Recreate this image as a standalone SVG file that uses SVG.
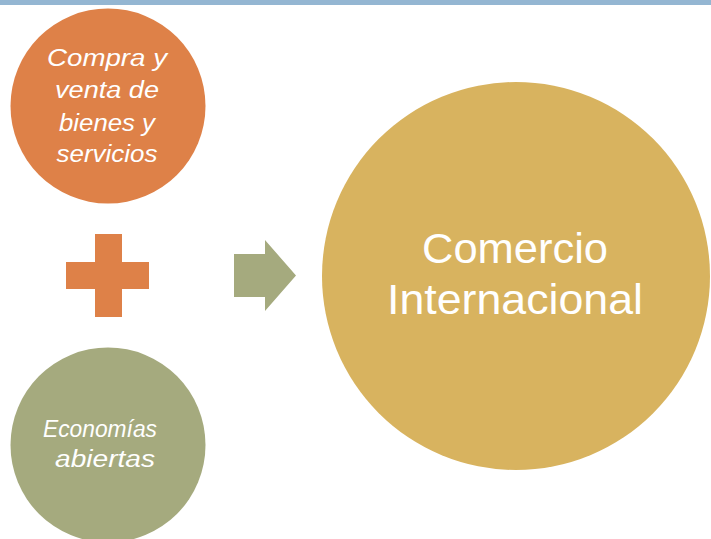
<svg xmlns="http://www.w3.org/2000/svg" width="711" height="539" viewBox="0 0 711 539">
<style>
.lbl{font-family:"Liberation Sans",Arial,sans-serif;fill:#ffffff;text-anchor:middle}
.it{font-style:italic;font-size:23px}
.big{font-size:42px}
</style>
<rect x="0" y="0" width="711" height="539" fill="#ffffff"/>
<rect x="0" y="0" width="711" height="5" fill="#94B6D2"/>
<g id="node-compra">
<circle cx="108" cy="106" r="97.5" fill="#DE8148"/>
<text class="lbl it" x="107" y="66" textLength="120" lengthAdjust="spacingAndGlyphs">Compra y</text>
<text class="lbl it" x="107" y="98" textLength="104" lengthAdjust="spacingAndGlyphs">venta de</text>
<text class="lbl it" x="107" y="131" textLength="96" lengthAdjust="spacingAndGlyphs">bienes y</text>
<text class="lbl it" x="107" y="162" textLength="101" lengthAdjust="spacingAndGlyphs">servicios</text>
</g>
<g id="node-plus">
<path d="M95 234H122V262H149V289H122V317H95V289H66V262H95Z" fill="#DE8148"/>
</g>
<g id="node-economias">
<circle cx="108" cy="445" r="97.5" fill="#A5AA7E"/>
<text class="lbl it" x="100" y="437" textLength="114" lengthAdjust="spacingAndGlyphs">Economías</text>
<text class="lbl it" x="105" y="467" textLength="100" lengthAdjust="spacingAndGlyphs">abiertas</text>
</g>
<g id="connectors">
<path d="M234 254H265V240L296 275.5L265 311V297H234Z" fill="#A5AA7E"/>
</g>
<g id="node-comercio">
<circle cx="516" cy="276" r="194" fill="#D8B35F"/>
<text class="lbl big" x="515" y="263" textLength="186" lengthAdjust="spacingAndGlyphs">Comercio</text>
<text class="lbl big" x="515" y="314" textLength="256" lengthAdjust="spacingAndGlyphs">Internacional</text>
</g>
</svg>
